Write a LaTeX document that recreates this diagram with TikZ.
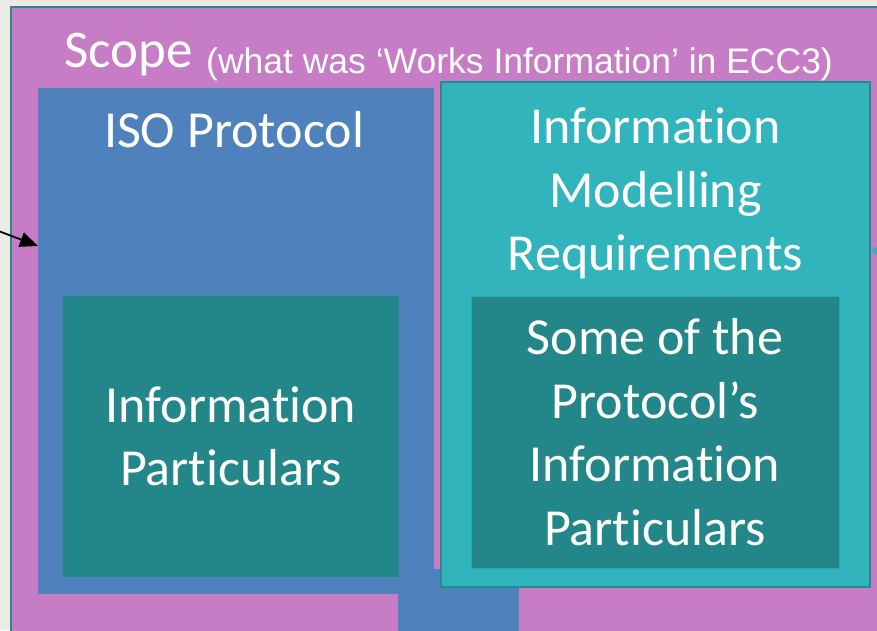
\documentclass[tikz,border=0pt]{standalone}
\usepackage{fontspec}
\setmainfont{Carlito}[Ligatures=NoCommon]
\newfontfamily\arialfont{Liberation Sans}
\usetikzlibrary{arrows.meta, positioning}
\definecolor{pagebg}{HTML}{ECEAE4}
\definecolor{scopebg}{HTML}{C77DC6}
\definecolor{isoblue}{HTML}{4F81BD}
\definecolor{reqteal}{HTML}{31B4BC}
\definecolor{darkteal}{HTML}{23878A}
\definecolor{edgeteal}{HTML}{268A8C}
\tikzset{
  box/.style={rectangle, anchor=north west, inner sep=0pt, outer sep=0pt},
  bigtext/.style={text=white, font=\fontsize{52}{63.5}\selectfont, align=center, inner sep=0pt},
  arrow/.style={line width=1.8pt, -{Triangle[length=18pt,width=15pt]}},
}

\begin{document}
\begin{tikzpicture}[x=1pt, y=-1pt, >=Stealth]
    \fill[pagebg] (0,0) rectangle (877,630);
    \useasboundingbox (0,0) rectangle (877,630);
    \clip (0,0) rectangle (877,630);

    % Scope frame
    \node (scope) [box, minimum width=900pt, minimum height=700pt, fill=scopebg, draw=edgeteal, line width=2pt] at (11,7) {};
    \node (scopelbl) [anchor=base west, inner sep=0pt, text=white, font=\fontsize{53}{62}\selectfont] at (64,67) {Scope};
    \node (scopenote) [anchor=base west, inner sep=0pt, text=white, font=\arialfont\fontsize{35.5}{40}\selectfont] at (206,73) {(what was ‘Works Information’ in ECC3)};

    % ISO protocol
    \node (stem) [box, minimum width=121pt, minimum height=80pt, fill=isoblue] at (398,569) {};
    \node (iso) [box, minimum width=396pt, minimum height=506pt, fill=isoblue] at (38,88) {};
    \node (isolbl) [bigtext, below=23pt of iso.north, xshift=-2pt] {ISO Protocol};

    % Information modelling requirements
    \node (req) [box, minimum width=429pt, minimum height=505pt, fill=reqteal, draw=edgeteal, line width=2.5pt] at (441,82) {};
    \node (reqlbl) [bigtext, below=26pt of req.north] {Information\\Modelling\\Requirements};

    % Particulars
    \node (partl) [box, minimum width=336pt, minimum height=281pt, fill=darkteal, bigtext] at (63,296) {Information\\Particulars};
    \node (partr) [box, minimum width=368pt, minimum height=272pt, fill=darkteal, draw=reqteal!70!darkteal, line width=0.8pt, bigtext] at (471,296) {Some of the\\Protocol’s\\Information\\Particulars};

    % Arrows
    \coordinate (lsrc) at (-12,227);
    \coordinate (rsrc) at (920,251);
    \draw [arrow] (lsrc) -- (iso.west |- 0,246);
    \draw [arrow, reqteal, line width=2pt, -{Triangle[length=10pt,width=12pt]}] (rsrc) -- (rsrc -| req.east);

\end{tikzpicture}
\end{document}
